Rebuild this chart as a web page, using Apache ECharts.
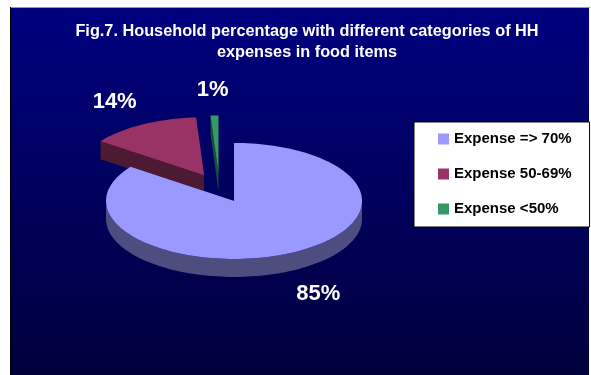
<!DOCTYPE html>
<html>
<head>
<meta charset="utf-8">
<script src="https://cdn.jsdelivr.net/npm/echarts@6/dist/echarts.min.js"></script>
<style>
  html, body { margin: 0; padding: 0; background: #ffffff; }
  #chart { width: 591px; height: 375px; }
</style>
</head>
<body>
<div id="chart"></div>
<script>
// Household food-expense categories and their shares (%)
const categories = ['Expense => 70%', 'Expense 50-69%', 'Expense <50%'];
const shares = [85, 14, 1];
const topColors = ['#9999FF', '#993366', '#339966'];
const sideColors = ['#4D4D80', '#4D1A33', '#1A4D33'];
const titleLines = [
  'Fig.7. Household percentage with different categories of HH',
  'expenses in food items'
];

// Layout of the tilted (pseudo-3D) pie
const PIE = { cx: 219.5, cy: 188, rx: 128, ry: 58, depth: 18, explode: 0.25, labelDist: 1.45 };
const FONT = '"Liberation Sans", Arial, Helvetica, sans-serif';
const total = shares.reduce((a, b) => a + b, 0);

// point on the projected ellipse, angle measured clockwise from 12 o'clock
function pt(ox, oy, deg, k, dz) {
  const r = deg * Math.PI / 180;
  return [ox + PIE.rx * k * Math.sin(r), oy - PIE.ry * k * Math.cos(r) + (dz || 0)];
}
function arc(ox, oy, a0, a1, dz) {
  const n = Math.max(2, Math.ceil(Math.abs(a1 - a0) / 2));
  const out = [];
  for (let i = 0; i <= n; i++) out.push(pt(ox, oy, a0 + (a1 - a0) * i / n, 1, dz));
  return out;
}

function renderSlice(idx) {
  return function (params, api) {
    let start = 0;
    for (let i = 0; i < idx; i++) start += shares[i] / total * 360;
    const end = start + api.value(0) / total * 360;
    const mid = (start + end) / 2;
    const o = pt(PIE.cx, PIE.cy, mid, PIE.explode);
    const ox = o[0], oy = o[1];
    const d = PIE.depth;
    const children = [];
    // flat radial walls
    [start, end].forEach(function (a) {
      const p = pt(ox, oy, a, 1);
      children.push({
        type: 'polygon', z2: 1,
        shape: { points: [[ox, oy], p, [p[0], p[1] + d], [ox, oy + d]] },
        style: { fill: sideColors[idx] }
      });
    });
    // curved outer wall (front half only)
    const f0 = Math.max(start, 90), f1 = Math.min(end, 270);
    if (f1 > f0) {
      const top = arc(ox, oy, f0, f1, 0);
      const bot = arc(ox, oy, f0, f1, d).reverse();
      children.push({
        type: 'polygon', z2: 2,
        shape: { points: top.concat(bot) },
        style: { fill: sideColors[idx] }
      });
    }
    // top face
    children.push({
      type: 'polygon', z2: 10,
      shape: { points: [[ox, oy]].concat(arc(ox, oy, start, end, 0)) },
      style: { fill: topColors[idx] }
    });
    // percentage label
    const front = Math.cos(mid * Math.PI / 180) < 0;
    const lp = pt(ox, oy, mid, PIE.labelDist, front ? d : 0);
    children.push({
      type: 'text', z2: 20, x: lp[0], y: lp[1],
      style: {
        text: api.value(0) + '%', fill: '#ffffff',
        font: 'bold 22px ' + FONT, align: 'center', verticalAlign: 'middle'
      }
    });
    return { type: 'group', children: children };
  };
}

const chart = echarts.init(document.getElementById('chart'), null, { renderer: 'canvas' });

const option = {
  animation: false,
  backgroundColor: '#ffffff',
  graphic: [
    {
      type: 'rect', z: -10, silent: true,
      shape: { x: 10, y: 7, width: 579, height: 368 },
      style: {
        fill: new echarts.graphic.LinearGradient(0, 0, 0, 1, [
          { offset: 0, color: '#000080' },
          { offset: 1, color: '#00003C' }
        ])
      }
    },
    {
      type: 'line', z: -9, silent: true,
      shape: { x1: 10, y1: 7.5, x2: 590, y2: 7.5 },
      style: { stroke: '#9a9a9a', lineWidth: 1 }
    },
    {
      type: 'line', z: -9, silent: true,
      shape: { x1: 10.5, y1: 7, x2: 10.5, y2: 375 },
      style: { stroke: '#000000', lineWidth: 1 }
    },
    {
      type: 'text', silent: true, x: 307, y: 31.5,
      style: {
        text: titleLines[0], fill: '#ffffff', font: 'bold 16.3px ' + FONT,
        align: 'center', verticalAlign: 'middle'
      }
    },
    {
      type: 'text', silent: true, x: 307, y: 53,
      style: {
        text: titleLines[1], fill: '#ffffff', font: 'bold 16.3px ' + FONT,
        align: 'center', verticalAlign: 'middle'
      }
    }
  ],
  legend: {
    orient: 'vertical',
    left: 414,
    top: 122,
    padding: [9, 18, 10, 24],
    itemGap: 19,
    itemWidth: 11,
    itemHeight: 11,
    icon: 'rect',
    backgroundColor: '#ffffff',
    borderColor: '#000000',
    borderWidth: 1,
    selectedMode: false,
    textStyle: { color: '#000000', fontWeight: 'bold', fontSize: 15, lineHeight: 16, fontFamily: FONT },
    data: categories.map((n, i) => ({ name: n, itemStyle: { color: topColors[i] } }))
  },
  series: categories.map((name, i) => ({
    type: 'custom',
    name: name,
    coordinateSystem: 'none',
    silent: true,
    itemStyle: { color: topColors[i] },
    renderItem: renderSlice(i),
    data: [shares[i]]
  }))
};

chart.setOption(option);
</script>
</body>
</html>
